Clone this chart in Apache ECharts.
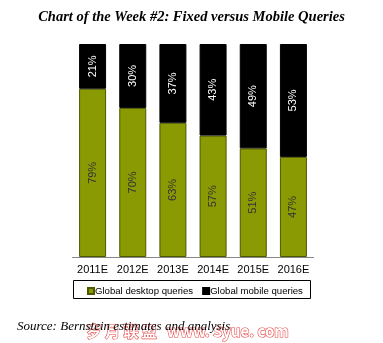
<!DOCTYPE html>
<html><head><meta charset="utf-8">
<script src="https://cdn.jsdelivr.net/npm/echarts@6/dist/echarts.min.js"></script>
<style>html,body{margin:0;padding:0;background:#fff}#c{width:383px;height:343px}</style>
</head><body><div id="c"></div>
<script>
const categories = ['2011E','2012E','2013E','2014E','2015E','2016E'];
const desktop = [79,70,63,57,51,47];
const mobile = [21,30,37,43,49,53];
const seriesNames = ['Global desktop queries','Global mobile queries'];

const chart = echarts.init(document.getElementById('c'), null, {renderer:'canvas'});
const labelBase = {show:true, position:'inside', rotate:90, fontFamily:'Liberation Sans, Arial', fontSize:11, formatter:p=>p.value+'%'};
chart.setOption({
  animation:false,
  title:[{text:'Chart of the Week #2: Fixed versus Mobile Queries', left:'center', top:5,
    textStyle:{fontFamily:'Liberation Serif, Times New Roman', fontStyle:'italic', fontWeight:'bold', fontSize:14.5, color:'#000'}},
    {text:'Source: Bernstein estimates and analysis', left:12, top:315,
    textStyle:{fontFamily:'Liberation Serif, Times New Roman', fontStyle:'italic', fontWeight:'normal', fontSize:13, color:'#000'}}],
  graphic:[
    {type:'rect', shape:{x:73.5, y:280.5, width:237, height:18}, style:{fill:'none', stroke:'#000', lineWidth:1}, z:10},
    {type:'text', left:86, top:323, style:{text:'岁 月 联 盟   www. Syue. com', font:'bold 15px "Noto Sans CJK SC", sans-serif', fill:'#fff', stroke:'#e84a4a', lineWidth:1.2}}],
  legend:{data:seriesNames, left:87, top:286, padding:0, itemGap:9, orient:'horizontal', width:300,
    itemWidth:6, itemHeight:6, icon:'rect',
    textStyle:{fontFamily:'Liberation Sans, Arial', fontSize:9.6, color:'#000', padding:[0,0,0,-4]}},
  grid:{left:72.5, right:69.5, top:44, bottom:86},
  xAxis:{type:'category', data:categories, axisLine:{lineStyle:{color:'#888'}}, axisTick:{show:false},
    axisLabel:{interval:0, fontFamily:'Liberation Sans, Arial', fontSize:11, color:'#000', margin:7}},
  yAxis:{type:'value', min:0, max:100, show:false, splitLine:{show:false}},
  series:[
    {name:seriesNames[0], type:'bar', stack:'a', data:desktop, barWidth:27,
      itemStyle:{color:'#8a9a02', borderColor:'#4e5600', borderWidth:1},
      label:Object.assign({color:'#333'}, labelBase)},
    {name:seriesNames[1], type:'bar', stack:'a', data:mobile, barWidth:27,
      itemStyle:{color:'#000', borderColor:'#000', borderWidth:1},
      label:Object.assign({color:'#fff'}, labelBase)}
  ]
});
</script></body></html>
